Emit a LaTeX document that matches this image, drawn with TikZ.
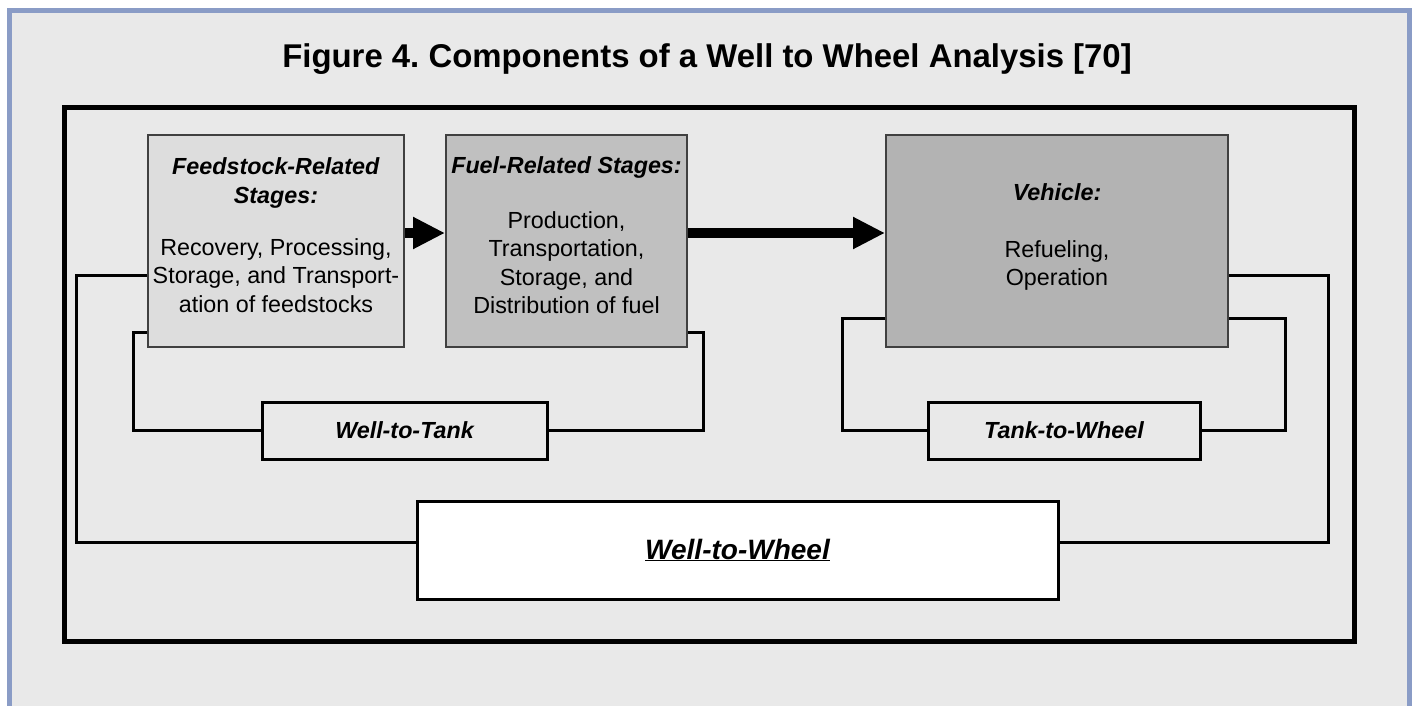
\documentclass[tikz,border=0pt]{standalone}
\usepackage{fontspec}
\setmainfont{Liberation Sans}
\usetikzlibrary{arrows.meta,positioning}
\definecolor{pagegray}{HTML}{E9E9E9}
\definecolor{frameblue}{HTML}{8A9CC6}
\definecolor{feedgray}{HTML}{DDDDDD}
\definecolor{fuelgray}{HTML}{C0C0C0}
\definecolor{vehgray}{HTML}{B3B3B3}
\newcommand{\bodyfont}{\fontsize{23.3}{28.5}\selectfont}
\frenchspacing

\begin{document}
\begin{tikzpicture}[x=1pt, y=-1pt,
		stage/.style={draw=black!75, line width=2pt, inner sep=0pt},
		stagetext/.style={align=center, font=\bodyfont, inner sep=0pt},
		part/.style={draw, line width=3pt, inner sep=0pt, font=\bodyfont\bfseries\itshape},
		link/.style={line width=3pt},
		flow/.style={line width=10pt, -{Triangle[length=32pt,width=30pt]}}]
		\useasboundingbox (0,0) rectangle (1414,706);
		% page and blue frame
		\fill[white] (0,0) rectangle (1414,706);
		\fill[pagegray] (9.5,10.5) rectangle (1409.5,706);
		\draw[frameblue, line width=5pt] (9.5,706) -- (9.5,10.5) -- (1409.5,10.5) -- (1409.5,706);
		% title
		\node[font=\fontsize{32.9}{36}\selectfont\bfseries, anchor=base] (title) at (707,68) {Figure 4. Components of a Well to Wheel Analysis [70]};
		% outer box
		\draw[line width=5pt] (64.5,107.5) rectangle (1354,641);
		% stage boxes
		\node[stage, fill=feedgray, minimum width=256pt, minimum height=212pt] (feed) at (276,241) {};
		\node[stage, fill=fuelgray, minimum width=241pt, minimum height=212pt] (fuel) at (566.5,241) {};
		\node[stage, fill=vehgray, minimum width=342pt, minimum height=212pt] (veh) at (1057,241) {};
		\node[stagetext] (feedtext) at ([yshift=6pt]feed.center) {\textbf{\textit{Feedstock-Related}}\\\textbf{\textit{Stages:}}\\[23.5pt]Recovery, Processing,\\Storage, and Transport-\\ation of feedstocks};
		\node[stagetext] (fueltext) at ([yshift=6pt]fuel.center) {\textbf{\textit{Fuel-Related Stages:}}\\[26.5pt]Production,\\Transportation,\\Storage, and\\Distribution of fuel};
		\node[stagetext] (vehtext) at ([yshift=4pt]veh.center) {\textbf{\textit{Vehicle:}}\\[28.5pt]Refueling,\\Operation};
		% flow arrows
		\draw[flow] ([yshift=8pt]feed.east) -- ([yshift=8pt]fuel.west);
		\draw[flow] ([yshift=8pt]fuel.east) -- ([yshift=8pt]veh.west);
		% part boxes
		\node[part, minimum width=285pt, minimum height=57pt] (wtt) at (404.5,430.5) {Well-to-Tank};
		\node[part, minimum width=272pt, minimum height=57pt] (ttw) at (1064,430.5) {Tank-to-Wheel};
		\node[part, fill=white, minimum width=641pt, minimum height=98pt, font=\fontsize{28}{32}\selectfont\bfseries\itshape] (wtw) at (737.5,550) {\underline{Well-to-Wheel}};
		% well-to-tank brackets
		\draw[link] ([yshift=-91pt]feed.west) -- ++(-14,0) |- (wtt.west);
		\draw[link] ([yshift=-91pt]fuel.east) -- ++(15,0) |- (wtt.east);
		% tank-to-wheel brackets
		\draw[link] ([yshift=-77pt]veh.west) -- ++(-43,0) |- (ttw.west);
		\draw[link] ([yshift=-77pt]veh.east) -- ++(56,0) |- (ttw.east);
		% well-to-wheel brackets
		\draw[link] ([yshift=-34pt]feed.west) -- ++(-71,0) |- ([yshift=8pt]wtw.west);
		\draw[link] ([yshift=-34pt]veh.east) -- ++(99,0) |- ([yshift=8pt]wtw.east);
	\end{tikzpicture}
\end{document}
